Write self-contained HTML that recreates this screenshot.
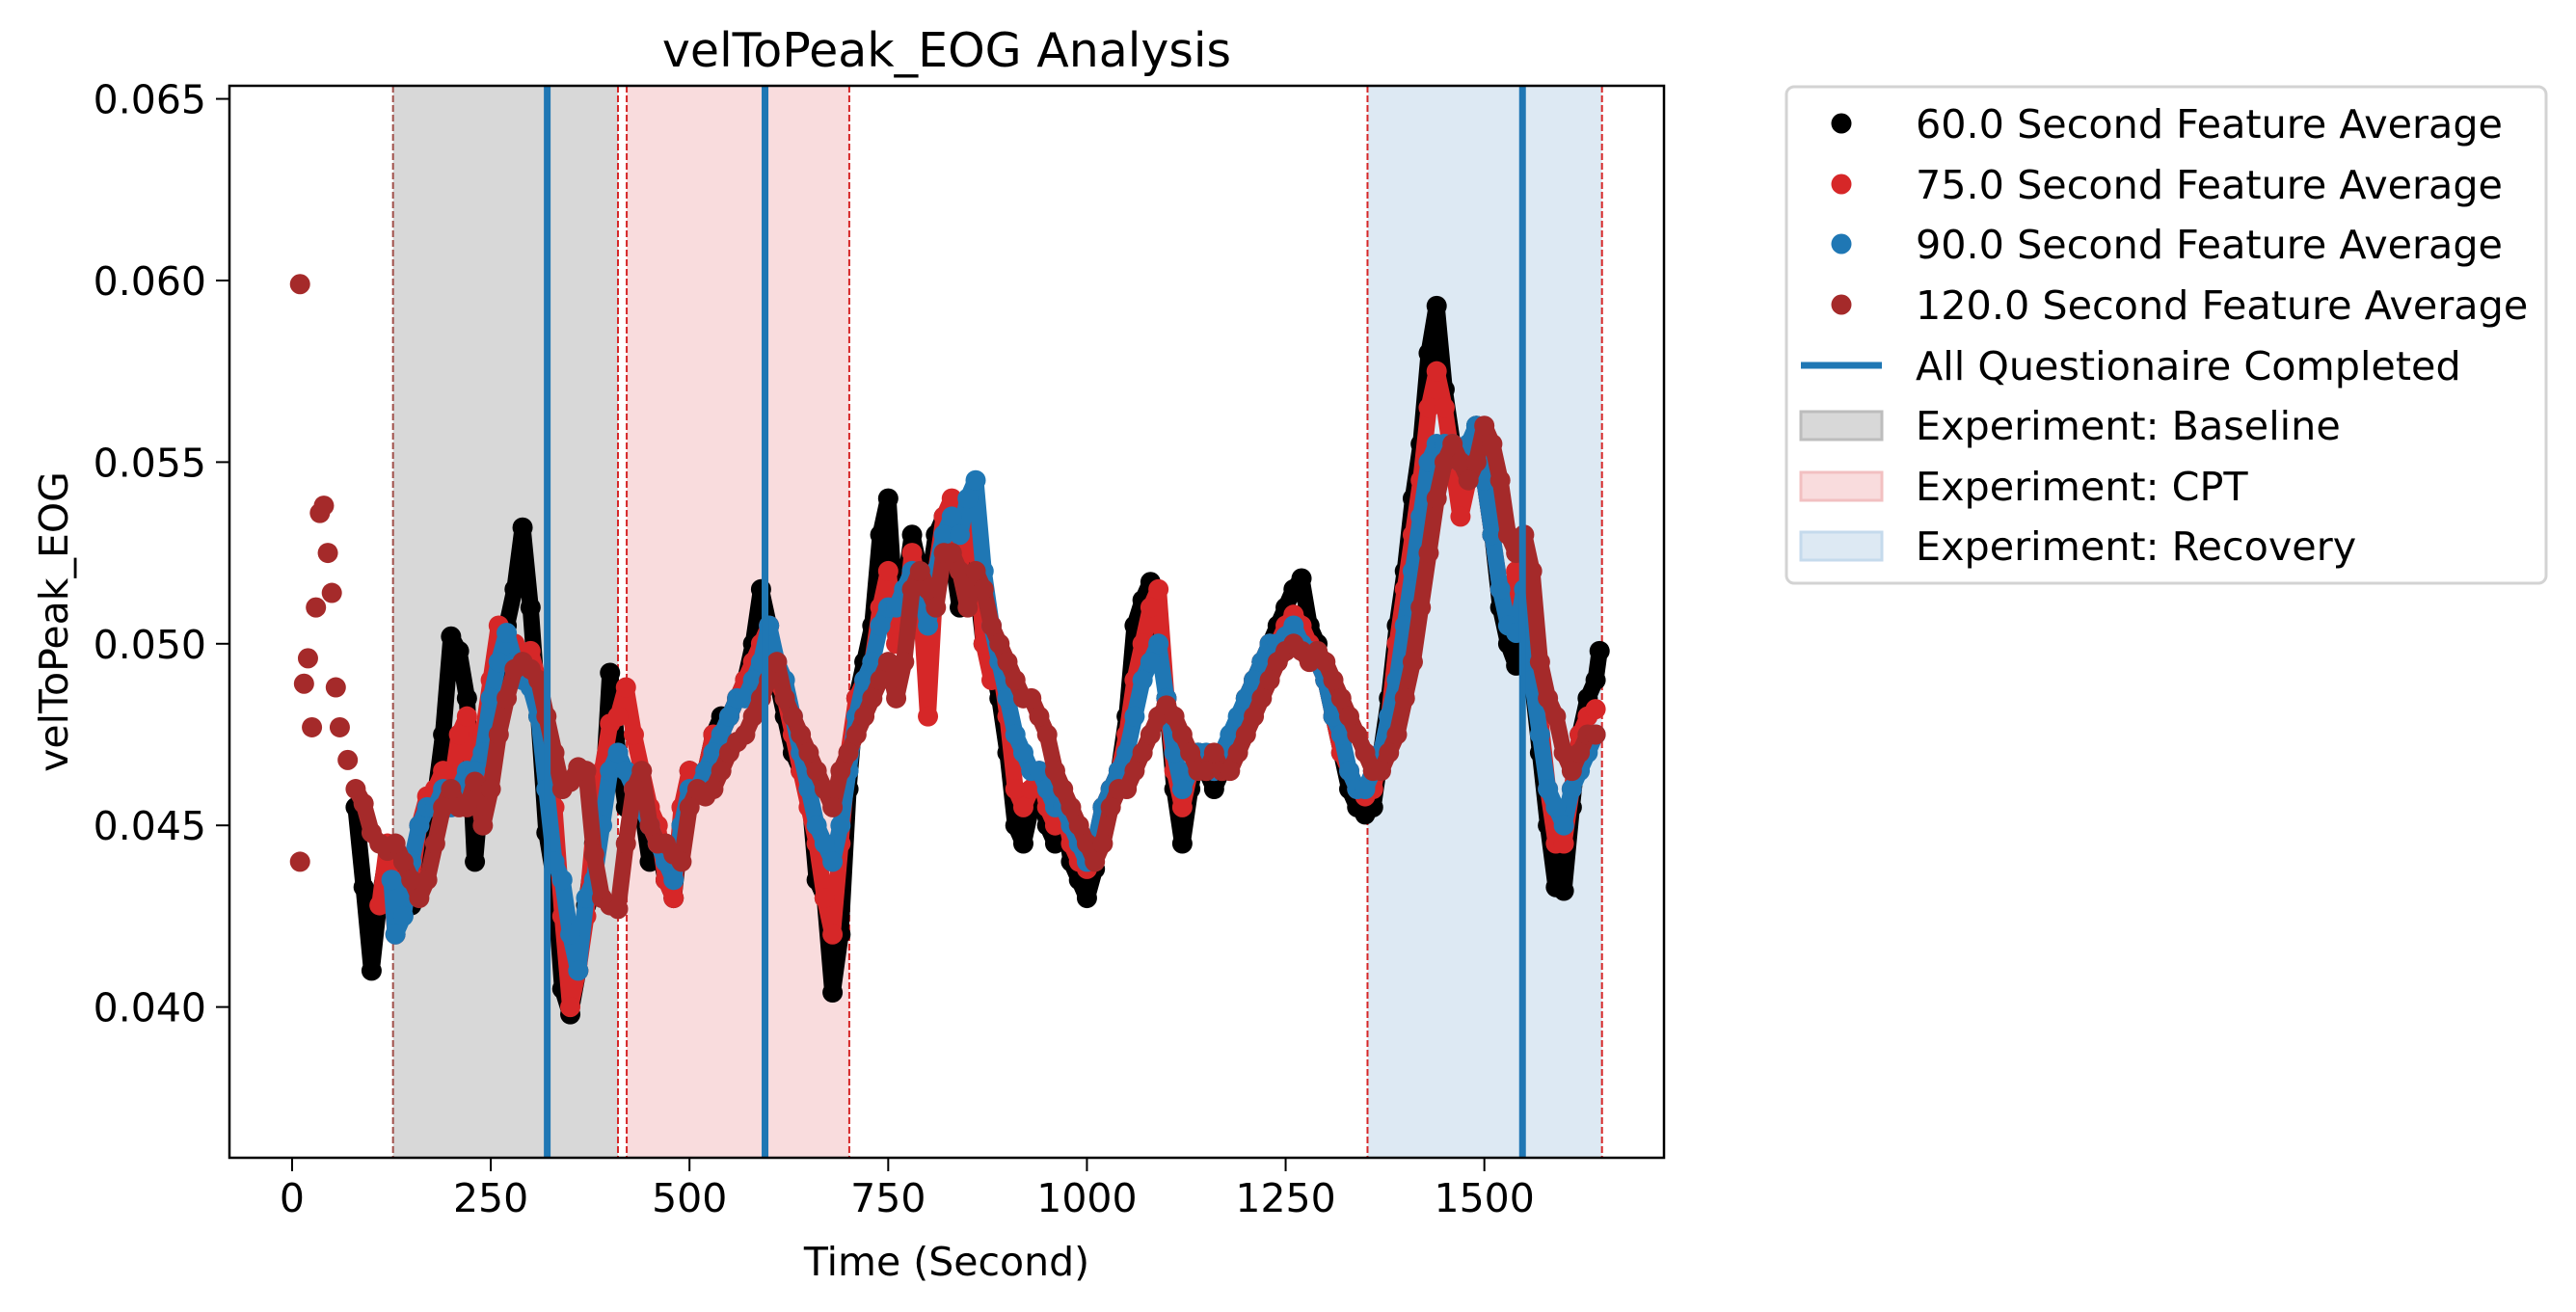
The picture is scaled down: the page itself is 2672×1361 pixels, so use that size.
<!DOCTYPE html>
<html><head><meta charset="utf-8"><title>velToPeak_EOG Analysis</title>
<style>html,body{margin:0;padding:0;background:#fff}svg{display:block}</style></head>
<body>
<svg id="chart" xmlns="http://www.w3.org/2000/svg" width="2672" height="1361" viewBox="0 0 2672 1361" font-family="DejaVu Sans, Liberation Sans, sans-serif">
<rect width="2672" height="1361" fill="#fff"/>
<g id="plot"></g>
</svg>
<script>
const xTicks=[0,250,500,750,1000,1250,1500];
const yTicks=[0.040,0.045,0.050,0.055,0.060,0.065];
const regionNames=["Baseline","CPT","Recovery"];
const regionStart=[127,421,1353];
const regionEnd=[410,701,1648];
const questLines=[321,595,1548];
const tBlack=[80,90,100,110,120,130,140,150,160,170,180,190,200,210,220,230,240,250,260,270,280,290,300,310,320,330,340,350,360,370,380,390,400,410,420,430,440,450,460,470,480,490,500,510,520,530,540,550,560,570,580,590,600,610,620,630,640,650,660,670,680,690,700,710,720,730,740,750,760,770,780,790,800,810,820,830,840,850,860,870,880,890,900,910,920,930,940,950,960,970,980,990,1000,1010,1020,1030,1040,1050,1060,1070,1080,1090,1100,1110,1120,1130,1140,1150,1160,1170,1180,1190,1200,1210,1220,1230,1240,1250,1260,1270,1280,1290,1300,1310,1320,1330,1340,1350,1360,1370,1380,1390,1400,1410,1420,1430,1440,1450,1460,1470,1480,1490,1500,1510,1520,1530,1540,1550,1560,1570,1580,1590,1600,1610,1620,1630,1640,1645];
const vBlack=[45.5,43.3,41.0,43.0,44.3,44.0,43.2,42.8,43.5,45.0,45.8,47.5,50.2,49.8,48.5,44.0,46.5,48.0,49.0,50.5,51.5,53.2,51.0,48.0,44.8,43.5,40.5,39.8,41.0,42.8,44.5,45.5,49.2,47.0,45.5,46.0,45.5,44.0,44.5,43.5,43.0,45.0,46.5,46.0,46.5,47.5,48.0,48.0,48.5,49.0,50.0,51.5,50.5,49.0,48.0,47.0,46.5,46.0,43.5,43.0,40.4,42.0,46.0,48.5,49.5,50.5,53.0,54.0,50.5,51.5,53.0,52.0,51.5,53.0,53.5,52.5,51.0,52.5,52.0,50.0,49.5,48.5,47.0,45.0,44.5,45.5,46.0,45.0,44.5,45.5,44.0,43.5,43.0,43.8,45.5,46.0,46.5,48.0,50.5,51.2,51.7,50.5,48.5,46.0,44.5,46.0,47.0,46.5,46.0,46.5,47.0,47.5,48.5,49.0,49.5,50.0,50.5,51.0,51.5,51.8,50.5,50.0,49.0,48.0,47.0,46.0,45.5,45.3,45.5,47.0,48.5,50.5,52.0,54.0,55.5,58.0,59.3,57.0,55.5,54.0,55.0,56.0,54.5,53.0,51.0,50.0,49.4,50.5,49.0,47.0,45.0,43.3,43.2,45.5,47.5,48.5,49.0,49.8];
const tRed=[110,120,130,140,150,160,170,180,190,200,210,220,230,240,250,260,270,280,290,300,310,320,330,340,350,360,370,380,390,400,410,420,430,440,450,460,470,480,490,500,510,520,530,540,550,560,570,580,590,600,610,620,630,640,650,660,670,680,690,700,710,720,730,740,750,760,770,780,790,800,810,820,830,840,850,860,870,880,890,900,910,920,930,940,950,960,970,980,990,1000,1010,1020,1030,1040,1050,1060,1070,1080,1090,1100,1110,1120,1130,1140,1150,1160,1170,1180,1190,1200,1210,1220,1230,1240,1250,1260,1270,1280,1290,1300,1310,1320,1330,1340,1350,1360,1370,1380,1390,1400,1410,1420,1430,1440,1450,1460,1470,1480,1490,1500,1510,1520,1530,1540,1550,1560,1570,1580,1590,1600,1610,1620,1630,1640];
const vRed=[42.8,44.5,42.0,43.5,43.5,45.0,45.8,46.0,46.5,46.0,47.5,48.0,46.0,47.5,49.0,50.5,49.8,50.0,49.5,49.8,49.0,46.5,45.5,42.5,40.0,41.0,42.5,45.0,46.5,47.8,48.0,48.8,47.5,46.5,45.5,45.0,43.5,43.0,45.5,46.5,46.0,46.5,47.5,47.5,48.0,48.5,49.0,49.5,50.0,50.5,49.0,48.5,47.5,46.5,45.5,44.5,43.0,42.0,44.5,47.0,48.5,49.0,49.5,51.0,52.0,50.0,50.5,52.5,51.5,48.0,52.0,53.5,54.0,52.0,53.5,53.0,50.0,49.0,49.5,48.0,46.0,45.5,46.0,46.5,45.5,45.0,45.5,44.5,44.0,43.8,44.5,45.5,46.0,46.5,47.5,49.0,50.0,51.0,51.5,48.5,46.5,45.5,46.5,47.0,46.5,46.5,46.5,47.0,47.5,48.5,49.0,49.5,50.0,50.0,50.5,50.8,50.5,50.0,49.5,49.0,48.0,47.0,46.5,46.0,45.8,46.0,47.0,48.0,50.0,51.5,53.0,54.5,56.5,57.5,56.5,55.0,53.5,54.5,55.5,54.5,53.0,51.5,51.0,52.0,51.5,49.5,48.0,46.0,44.5,44.5,46.0,47.5,48.0,48.2];
const tBlue=[125,130,140,150,160,170,180,190,200,210,220,230,240,250,260,270,280,290,300,310,320,330,340,350,360,370,380,390,400,410,420,430,440,450,460,470,480,490,500,510,520,530,540,550,560,570,580,590,600,610,620,630,640,650,660,670,680,690,700,710,720,730,740,750,760,770,780,790,800,810,820,830,840,850,860,870,880,890,900,910,920,930,940,950,960,970,980,990,1000,1010,1020,1030,1040,1050,1060,1070,1080,1090,1100,1110,1120,1130,1140,1150,1160,1170,1180,1190,1200,1210,1220,1230,1240,1250,1260,1270,1280,1290,1300,1310,1320,1330,1340,1350,1360,1370,1380,1390,1400,1410,1420,1430,1440,1450,1460,1470,1480,1490,1500,1510,1520,1530,1540,1550,1560,1570,1580,1590,1600,1610,1620,1630,1640];
const vBlue=[43.5,42.0,42.5,44.0,45.0,45.5,45.5,46.0,45.5,46.0,46.5,46.5,47.0,48.5,49.5,50.3,49.5,49.0,48.8,48.0,46.0,44.0,43.5,42.0,41.0,43.0,43.5,45.0,46.5,47.0,46.5,46.0,45.5,45.0,44.5,44.0,43.5,45.0,46.0,46.0,46.5,47.0,47.5,48.0,48.5,48.5,49.0,49.5,50.5,49.5,49.0,48.0,47.0,46.0,45.0,44.5,44.0,45.0,46.5,48.0,49.0,49.5,50.5,51.0,51.0,51.5,52.0,51.5,50.5,52.0,53.0,53.5,53.0,54.0,54.5,52.0,50.5,49.5,48.5,47.5,47.0,46.5,46.5,46.0,45.5,45.5,45.0,44.5,44.0,44.5,45.5,46.0,46.5,47.0,48.0,49.0,49.5,50.0,48.5,47.0,46.0,46.5,47.0,47.0,46.5,47.0,47.5,48.0,48.5,49.0,49.5,50.0,50.0,50.2,50.5,50.0,49.8,49.5,49.0,48.0,47.5,46.5,46.0,46.0,46.5,47.0,48.0,49.0,50.5,52.0,53.5,55.0,55.5,55.5,55.5,55.0,55.5,56.0,54.5,53.0,51.5,50.5,50.3,51.5,49.0,47.5,46.0,45.5,45.0,46.0,46.5,47.0,47.5];
const tBrown=[10,10,15,20,25,30,35,40,45,50,55,60,70,80,90,100,110,120,130,140,150,160,170,180,190,200,210,220,230,240,250,260,270,280,290,300,310,320,330,340,350,360,370,380,390,400,410,420,430,440,450,460,470,480,490,500,510,520,530,540,550,560,570,580,590,600,610,620,630,640,650,660,670,680,690,700,710,720,730,740,750,760,770,780,790,800,810,820,830,840,850,860,870,880,890,900,910,920,930,940,950,960,970,980,990,1000,1010,1020,1030,1040,1050,1060,1070,1080,1090,1100,1110,1120,1130,1140,1150,1160,1170,1180,1190,1200,1210,1220,1230,1240,1250,1260,1270,1280,1290,1300,1310,1320,1330,1340,1350,1360,1370,1380,1390,1400,1410,1420,1430,1440,1450,1460,1470,1480,1490,1500,1510,1520,1530,1540,1550,1560,1570,1580,1590,1600,1610,1620,1630,1640];
const vBrown=[59.9,44.0,48.9,49.6,47.7,51.0,53.6,53.8,52.5,51.4,48.8,47.7,46.8,46.0,45.6,44.8,44.5,44.3,44.5,44.0,43.5,43.0,43.5,44.5,45.5,46.0,45.5,45.5,46.2,45.0,46.0,47.5,48.5,49.3,49.5,49.3,49.0,48.0,47.0,46.0,46.2,46.6,46.5,44.2,43.0,42.8,42.7,44.5,46.0,46.5,45.0,44.5,44.5,44.2,44.0,45.5,46.0,45.8,46.0,46.5,47.0,47.3,47.5,48.0,48.5,49.0,49.5,48.5,48.0,47.5,47.0,46.5,46.0,45.5,46.5,47.0,47.5,48.0,48.5,49.0,49.5,48.5,49.5,51.5,52.0,51.5,51.0,52.5,52.5,52.0,51.0,52.0,51.5,50.5,50.0,49.5,49.0,48.5,48.5,48.0,47.5,46.5,46.0,45.5,45.0,44.5,44.0,44.5,45.5,46.0,46.0,46.5,47.0,47.5,48.0,48.3,48.0,47.5,47.0,46.5,46.5,47.0,46.5,46.5,47.0,47.5,48.0,48.5,49.0,49.5,49.8,50.0,49.8,49.5,49.8,49.5,49.0,48.5,48.0,47.5,47.0,46.5,46.5,47.0,47.5,48.5,49.5,51.0,52.5,54.0,55.0,55.5,55.0,54.5,55.0,56.0,55.5,54.5,53.0,52.5,53.0,52.0,49.5,48.5,48.0,47.0,46.5,47.0,47.5,47.5,47.5];

const NS='http://www.w3.org/2000/svg';
const L=238,R=1726,T=89,B=1201;
const XMIN=-78.8,XMAX=1726;
const YMIN=0.03585,YMAX=0.06536;
function xs(v){return L+(v-XMIN)/(XMAX-XMIN)*(R-L);}
function ys(v){return B-(v-YMIN)/(YMAX-YMIN)*(B-T);}
function mk(tag,attrs,parent){const e=document.createElementNS(NS,tag);for(const k in attrs)e.setAttribute(k,attrs[k]);(parent||document.getElementById('plot')).appendChild(e);return e;}

const regionFill=['#d8d8d8','#f9dcdd','#dde9f3'];
for(let i=0;i<regionNames.length;i++){
  const r=mk('rect',{x:xs(regionStart[i]),y:T,width:xs(regionEnd[i])-xs(regionStart[i]),height:B-T,fill:regionFill[i]});
  
  
}
for(let i=0;i<regionNames.length;i++){
  [regionStart[i],regionEnd[i]].forEach((v,j)=>{
    const l=mk('line',{x1:xs(v),x2:xs(v),y1:T,y2:B,stroke:(i===0&&j===0)?'#a0504a':'#d62728','stroke-width':2,'stroke-dasharray':'7,3'});
    
    
  });
}
function series(ts,vs,color,name,trailFrom){
  const g=mk('g',{fill:color});
  
  
  let pts=[];
  for(let i=trailFrom;i<ts.length;i++){pts.push(xs(ts[i]).toFixed(1)+','+ys(vs[i]/1000).toFixed(1));}
  const pl=mk('polyline',{points:pts.join(' '),fill:'none',stroke:color,'stroke-width':17,'stroke-linejoin':'round','stroke-linecap':'round'},g);
  
  
  for(let i=0;i<ts.length;i++){
    const c=mk('circle',{cx:xs(ts[i]),cy:ys(vs[i]/1000),r:10.5},g);
    
    
  }
}
series(tBlack,vBlack,'#000000','series-60s',0);
series(tRed,vRed,'#d62728','series-75s',0);
series(tBlue,vBlue,'#1f77b4','series-90s',0);
series(tBrown,vBrown,'#a52a2a','series-120s',13);
questLines.forEach(v=>{
  const l=mk('line',{x1:xs(v),x2:xs(v),y1:T,y2:B,stroke:'#1f77b4','stroke-width':7});
  
  
});
const frame=mk('rect',{x:L,y:T,width:R-L,height:B-T,fill:'none',stroke:'#000','stroke-width':2.5});


xTicks.forEach(v=>{
  const l=mk('line',{x1:xs(v),x2:xs(v),y1:B,y2:B+14,stroke:'#000','stroke-width':2});
  
  
  const t=mk('text',{x:xs(v),y:B+56,'text-anchor':'middle','font-size':41,fill:'#000'});
  t.textContent=String(v);
  
  
});
yTicks.forEach(v=>{
  const l=mk('line',{x1:L-14,x2:L,y1:ys(v),y2:ys(v),stroke:'#000','stroke-width':2});
  
  
  const t=mk('text',{x:L-24,y:ys(v)+15,'text-anchor':'end','font-size':41,fill:'#000'});
  t.textContent=v.toFixed(3);
  
  
});
</script>
<svg style="position:absolute;left:0;top:0" width="2672" height="1361" font-family="DejaVu Sans, Liberation Sans, sans-serif">
<text x="982" y="69" text-anchor="middle" font-size="49">velToPeak_EOG Analysis</text>
<text x="982" y="1323" text-anchor="middle" font-size="41">Time (Second)</text>
<text transform="translate(70,645) rotate(-90)" text-anchor="middle" font-size="41">velToPeak_EOG</text>
<g font-size="41.3">
<rect x="1853" y="90" width="788" height="515" rx="8" fill="#fff" stroke="#d3d3d3" stroke-width="3"/>
<g><circle cx="1910" cy="128" r="10.5" fill="#000"/><text x="1987" y="143">60.0 Second Feature Average</text></g>
<g><circle cx="1910" cy="191" r="10.5" fill="#d62728"/><text x="1987" y="206">75.0 Second Feature Average</text></g>
<g><circle cx="1910" cy="253" r="10.5" fill="#1f77b4"/><text x="1987" y="268">90.0 Second Feature Average</text></g>
<g><circle cx="1910" cy="316" r="10.5" fill="#a52a2a"/><text x="1987" y="331">120.0 Second Feature Average</text></g>
<g><line x1="1868" x2="1952" y1="379" y2="379" stroke="#1f77b4" stroke-width="7"/><text x="1987" y="394">All Questionaire Completed</text></g>
<g><rect x="1868" y="427" width="84" height="29" fill="#d8d8d8" stroke="#bdbdbd" stroke-width="3"/><text x="1987" y="456">Experiment: Baseline</text></g>
<g><rect x="1868" y="490" width="84" height="29" fill="#f9dcdd" stroke="#f2c0c1" stroke-width="3"/><text x="1987" y="519">Experiment: CPT</text></g>
<g><rect x="1868" y="552" width="84" height="29" fill="#dde9f3" stroke="#c5daec" stroke-width="3"/><text x="1987" y="581">Experiment: Recovery</text></g>
</g>
</svg>
</body></html>
